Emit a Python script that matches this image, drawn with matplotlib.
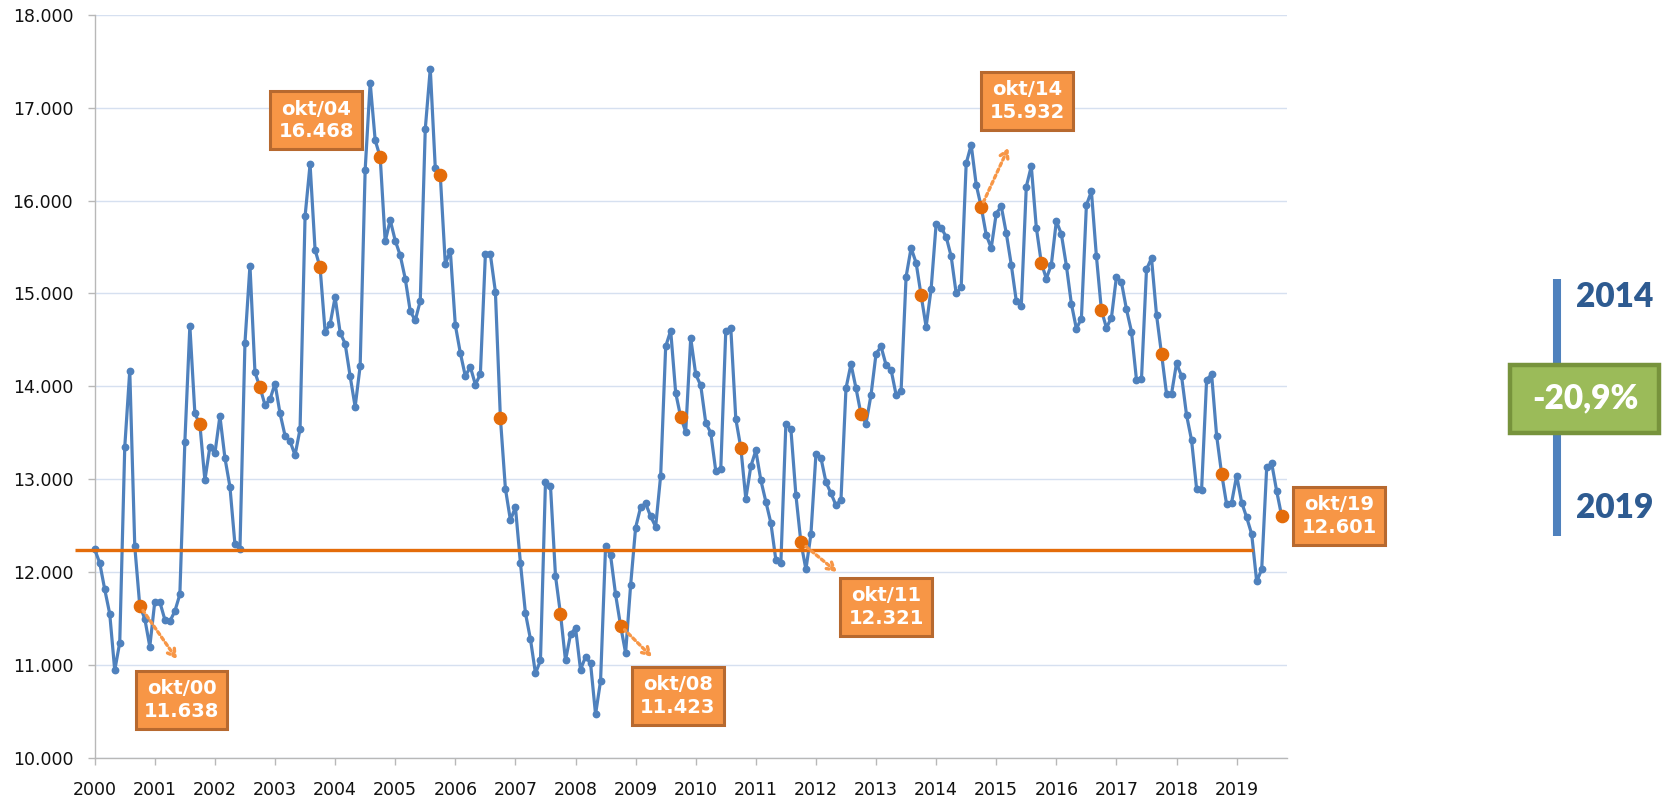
import matplotlib
matplotlib.use("Agg")
import matplotlib.pyplot as plt
from matplotlib.ticker import FuncFormatter, FixedLocator
from matplotlib.patches import Rectangle
from matplotlib.lines import Line2D

# ---------------- data (monthly values, Jan..Dec) ----------------
v2000 = [12245, 12100, 11815, 11553, 10943, 11243, 13346, 14169, 12278, 11638, 11499, 11199]
v2001 = [11684, 11680, 11490, 11470, 11580, 11760, 13400, 14650, 13710, 13590, 12990, 13350]
v2002 = [13280, 13680, 13230, 12920, 12300, 12250, 14470, 15300, 14150, 13990, 13800, 13860]
v2003 = [14030, 13710, 13470, 13410, 13260, 13540, 15830, 16390, 15470, 15280, 14590, 14670]
v2004 = [14960, 14580, 14460, 14110, 13780, 14220, 16330, 17270, 16650, 16468, 15560, 15790]
v2005 = [15570, 15410, 15160, 14810, 14710, 14920, 16770, 17420, 16350, 16270, 15320, 15460]
v2006 = [14660, 14360, 14110, 14210, 14020, 14130, 15420, 15420, 15020, 13660, 12900, 12560]
v2007 = [12700, 12100, 11560, 11280, 10910, 11050, 12970, 12930, 11960, 11550, 11050, 11330]
v2008 = [11400, 10950, 11090, 11020, 10470, 10830, 12280, 12180, 11760, 11423, 11130, 11860]
v2009 = [12480, 12700, 12740, 12600, 12490, 13040, 14430, 14600, 13930, 13670, 13510, 14520]
v2010 = [14130, 14010, 13610, 13500, 13090, 13110, 14600, 14630, 13650, 13340, 12790, 13140]
v2011 = [13310, 12990, 12760, 12530, 12130, 12100, 13600, 13540, 12830, 12321, 12030, 12410]
v2012 = [13270, 13230, 12970, 12850, 12720, 12780, 13980, 14240, 13980, 13700, 13600, 13910]
v2013 = [14350, 14430, 14230, 14180, 13910, 13950, 15180, 15490, 15330, 14980, 14640, 15050]
v2014 = [15750, 15710, 15610, 15400, 15000, 15070, 16400, 16600, 16170, 15932, 15630, 15490]
v2015 = [15860, 15940, 15650, 15310, 14920, 14870, 16150, 16370, 15710, 15330, 15160, 15310]
v2016 = [15780, 15640, 15300, 14890, 14620, 14730, 15950, 16100, 15400, 14820, 14630, 14740]
v2017 = [15180, 15120, 14830, 14590, 14070, 14080, 15260, 15380, 14770, 14350, 13920, 13920]
v2018 = [14250, 14110, 13690, 13420, 12900, 12890, 14070, 14130, 13470, 13060, 12730, 12750]
v2019 = [13040, 12750, 12590, 12410, 11900, 12030, 13130, 13170, 12870, 12601]

years = list(range(2000, 2020))
yearly = [v2000, v2001, v2002, v2003, v2004, v2005, v2006, v2007, v2008, v2009,
          v2010, v2011, v2012, v2013, v2014, v2015, v2016, v2017, v2018, v2019]

REF_LEVEL = 12234          # horizontal reference line
HIGHLIGHT_MONTH = 9        # October (0-based)

# labelled Octobers: year, label, (text offset pts), (arrow offset pts or None)
labelled = [
    (2000, "okt/00", (30, -68), (26.6, -38.3)),
    (2004, "okt/04", (-46, 26.4), None),
    (2008, "okt/08", (41.3, -50.5), (22.4, -22.3)),
    (2011, "okt/11", (61.3, -46.5), (25.8, -21.2)),
    (2014, "okt/14", (33, 76.2), (19.5, 42.4)),
    (2019, "okt/19", (41.3, 0), None),
]

pct_change = "-20,9%"
side_top, side_bottom = "2014", "2019"

# ---------------- build series ----------------
x, y = [], []
hx, hy = [], []
for yr, vals in zip(years, yearly):
    for m, v in enumerate(vals):
        x.append(yr + m / 12.0)
        y.append(v)
        if m == HIGHLIGHT_MONTH:
            hx.append(yr + m / 12.0)
            hy.append(v)

def fmt_thousands(v):
    return f"{int(round(v)):,}".replace(",", ".")

# ---------------- figure ----------------
fig = plt.figure(figsize=(16.62, 7.96), dpi=100)
ax = fig.add_axes([0.05698, 0.04774, 0.7174, 0.9337])

blue = "#4F81BD"
orange_dark = "#E46C0A"
orange_light = "#F79646"
orange_edge = "#B7692F"

ax.plot(x, y, color=blue, lw=2.3, marker="o", ms=4.6, mfc=blue, mec=blue,
        zorder=3, clip_on=False)
ax.plot([2000 - 0.33, 2019.27], [REF_LEVEL, REF_LEVEL], color=orange_dark,
        lw=2.4, zorder=4, clip_on=False, solid_capstyle="butt")
ax.plot(hx, hy, ls="none", marker="o", ms=8.8, mfc=orange_dark, mec=orange_dark,
        zorder=5, clip_on=False)

ax.set_xlim(2000, 2019.838)
ax.set_ylim(10000, 18000)
ax.yaxis.set_major_locator(FixedLocator(list(range(10000, 18001, 1000))))
ax.xaxis.set_major_locator(FixedLocator(years))
ax.yaxis.set_major_formatter(FuncFormatter(lambda v, p: fmt_thousands(v)))
ax.xaxis.set_major_formatter(FuncFormatter(lambda v, p: str(int(round(v)))))

ax.grid(axis="y", color="#D6E0F0", lw=1.0, zorder=0)
ax.set_axisbelow(True)
for s in ("top", "right"):
    ax.spines[s].set_visible(False)
for s in ("left", "bottom"):
    ax.spines[s].set_color("#B8B8B8")
    ax.spines[s].set_linewidth(1.0)
ax.tick_params(axis="both", direction="out", length=5, width=1, color="#B8B8B8",
               labelsize=12.5, labelcolor="#111111")
ax.tick_params(axis="y", pad=10.5)
ax.tick_params(axis="x", pad=11.5)

# ---------------- annotations ----------------
val_of = dict(zip([int(round(a - HIGHLIGHT_MONTH / 12.0)) for a in hx], zip(hx, hy)))
for yr, lab, toff, aoff in labelled:
    px, py = val_of[yr]
    ax.annotate(f"{lab}\n{fmt_thousands(py)}", xy=(px, py), xytext=toff,
                textcoords="offset points", ha="center", va="center",
                fontsize=14, fontweight="bold", color="white", linespacing=1.25,
                bbox=dict(boxstyle="square,pad=0.42", fc=orange_light,
                          ec=orange_edge, lw=2.2),
                zorder=6, annotation_clip=False)
    if aoff is not None:
        ax.annotate("", xy=(px, py), xytext=aoff, textcoords="offset points",
                    arrowprops=dict(arrowstyle="<-,head_length=0.5,head_width=0.3",
                                    color=orange_light, lw=2.4, ls=(0, (1, 1)),
                                    shrinkA=0, shrinkB=4),
                    zorder=6, annotation_clip=False)

# ---------------- right-side panel ----------------
fig.add_artist(Line2D([0.9368, 0.9368], [0.3266, 0.6495], transform=fig.transFigure,
                      color=blue, lw=5.8, solid_capstyle="butt"))
fig.add_artist(Rectangle((0.9085, 0.4565), 0.0895, 0.0855, transform=fig.transFigure,
                         fc="#9BBB59", ec="#77933C", lw=3.2, zorder=5))
fig.text(0.9537, 0.4995, pct_change, ha="center", va="center", color="white",
         fontsize=24, fontweight="heavy", family="Lato", zorder=6)
fig.text(0.9717, 0.6269, side_top, ha="center", va="center", color="#2E5B91",
         fontsize=24, fontweight="heavy", family="Lato")
fig.text(0.9717, 0.3618, side_bottom, ha="center", va="center", color="#2E5B91",
         fontsize=24, fontweight="heavy", family="Lato")

fig.savefig("out.png", dpi=100)
